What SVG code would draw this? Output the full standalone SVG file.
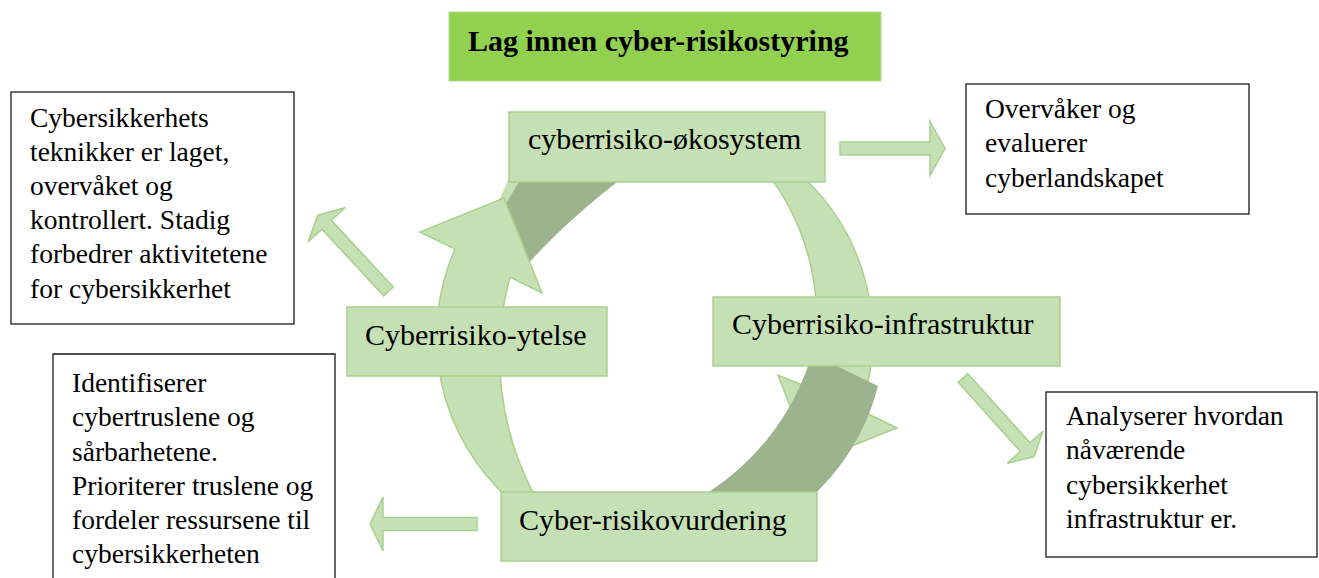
<svg xmlns="http://www.w3.org/2000/svg" width="1319" height="578" viewBox="0 0 1319 578">
  <style>
    .ring { fill: #c5e0b4; stroke: #a9d18e; stroke-width: 1.5; stroke-linejoin: miter; }
    .shade { fill: #9db38d; stroke: none; }
    .node { fill: #c5e0b4; stroke: #a9d18e; stroke-width: 1.5; }
    .blk { fill: #c5e0b4; stroke: #a9d18e; stroke-width: 1.5; }
    .note { fill: #ffffff; stroke: #1a1a1a; stroke-width: 1.3; }
    .lbl { font-size: 30px; fill: #000; }
    .txt { font-size: 27.5px; fill: #000; }
    .ttl { font-size: 30px; font-weight: bold; fill: #000; }
  </style>

  <!-- title banner -->
  <g id="title" font-family="'Liberation Serif', 'Times New Roman', serif">
    <rect x="449" y="12" width="432" height="69" fill="#92d050" stroke="#b5dc8c" stroke-width="1"/>
    <text class="ttl" x="468" y="51">Lag innen cyber-risikostyring</text>
  </g>

  <!-- cycle: two curved block arrows with shaded tails -->
  <g id="connectors">
    <!-- right-hand arrow (top to bottom, clockwise) -->
    <path class="ring" d="M 795,170 A 218 218 0 0 1 860,410 L 897,428 L 812,462 L 778,375 L 807,387 A 241 241 0 0 0 765,170 Z"/>
    <!-- shaded tail, lower right -->
    <path class="shade" d="M 878,386 L 812,354 A 250 250 0 0 1 692,502 L 806,502 A 225 225 0 0 0 878,386 Z"/>
    <!-- shaded tail, upper left -->
    <path class="shade" d="M 506,203 L 522,176 L 625,176 Q 566,221 527,265 Z"/>
    <path fill="#c5e0b4" d="M 498,203 L 510,176 L 522,176 L 506,203 Z"/>
    <!-- left-hand arrow (bottom to top, clockwise) -->
    <path class="ring" d="M 510,500 A 218 218 0 0 1 455,249 L 420,232 L 504,198 L 542,293 L 510,277 A 298 298 0 0 0 537,500 Z"/>

    <!-- outward block arrows -->
    <polygon class="blk" transform="translate(840,148.5)" points="0,-6.5 90,-6.5 90,-27 105,0 90,27 90,6.5 0,6.5"/>
    <polygon class="blk" transform="translate(388.5,291.5) rotate(227.2)" points="0,-6.5 91,-6.5 91,-25.5 104,0 91,25.5 91,6.5 0,6.5"/>
    <polygon class="blk" transform="translate(963,378) rotate(48)" points="0,-6.5 93,-6.5 93,-24 106,0 93,24 93,6.5 0,6.5"/>
    <polygon class="blk" transform="translate(477,524) rotate(180)" points="0,-6.5 94,-6.5 94,-27 107,0 94,27 94,6.5 0,6.5"/>
  </g>

  <!-- cycle stages -->
  <g id="node-okosystem" font-family="'Liberation Serif', 'Times New Roman', serif">
    <rect class="node" x="509" y="112" width="316" height="70"/>
    <text class="lbl" x="528" y="149">cyberrisiko-økosystem</text>
  </g>
  <g id="node-infrastruktur" font-family="'Liberation Serif', 'Times New Roman', serif">
    <rect class="node" x="713" y="297" width="347" height="69"/>
    <text class="lbl" x="732" y="334">Cyberrisiko-infrastruktur</text>
  </g>
  <g id="node-ytelse" font-family="'Liberation Serif', 'Times New Roman', serif">
    <rect class="node" x="347" y="307" width="260" height="69"/>
    <text class="lbl" x="365" y="345">Cyberrisiko-ytelse</text>
  </g>
  <g id="node-vurdering" font-family="'Liberation Serif', 'Times New Roman', serif">
    <rect class="node" x="501" y="492" width="316" height="69"/>
    <text class="lbl" x="519" y="530">Cyber-risikovurdering</text>
  </g>

  <!-- description boxes -->
  <g id="note-ytelse" font-family="'Liberation Serif', 'Times New Roman', serif">
    <rect class="note" x="11" y="92" width="283" height="232"/>
    <text class="txt">
      <tspan x="30" y="127">Cybersikkerhets</tspan>
      <tspan x="30" y="161">teknikker er laget,</tspan>
      <tspan x="30" y="195">overvåket og</tspan>
      <tspan x="30" y="229">kontrollert. Stadig</tspan>
      <tspan x="30" y="263">forbedrer aktivitetene</tspan>
      <tspan x="30" y="298">for cybersikkerhet</tspan>
    </text>
  </g>
  <g id="note-vurdering" font-family="'Liberation Serif', 'Times New Roman', serif">
    <path class="note" d="M 53,580 L 53,354 L 335,354 L 335,580"/>
    <text class="txt">
      <tspan x="72" y="392">Identifiserer</tspan>
      <tspan x="72" y="426">cybertruslene og</tspan>
      <tspan x="72" y="461">sårbarhetene.</tspan>
      <tspan x="72" y="495">Prioriterer truslene og</tspan>
      <tspan x="72" y="529">fordeler ressursene til</tspan>
      <tspan x="72" y="563">cybersikkerheten</tspan>
    </text>
  </g>
  <g id="note-okosystem" font-family="'Liberation Serif', 'Times New Roman', serif">
    <rect class="note" x="966" y="84" width="283" height="130"/>
    <text class="txt">
      <tspan x="985" y="118">Overvåker og</tspan>
      <tspan x="985" y="152">evaluerer</tspan>
      <tspan x="985" y="187">cyberlandskapet</tspan>
    </text>
  </g>
  <g id="note-infrastruktur" font-family="'Liberation Serif', 'Times New Roman', serif">
    <rect class="note" x="1046" y="392" width="271" height="165"/>
    <text class="txt">
      <tspan x="1066" y="425">Analyserer hvordan</tspan>
      <tspan x="1066" y="459">nåværende</tspan>
      <tspan x="1066" y="494">cybersikkerhet</tspan>
      <tspan x="1066" y="528">infrastruktur er.</tspan>
    </text>
  </g>
</svg>
